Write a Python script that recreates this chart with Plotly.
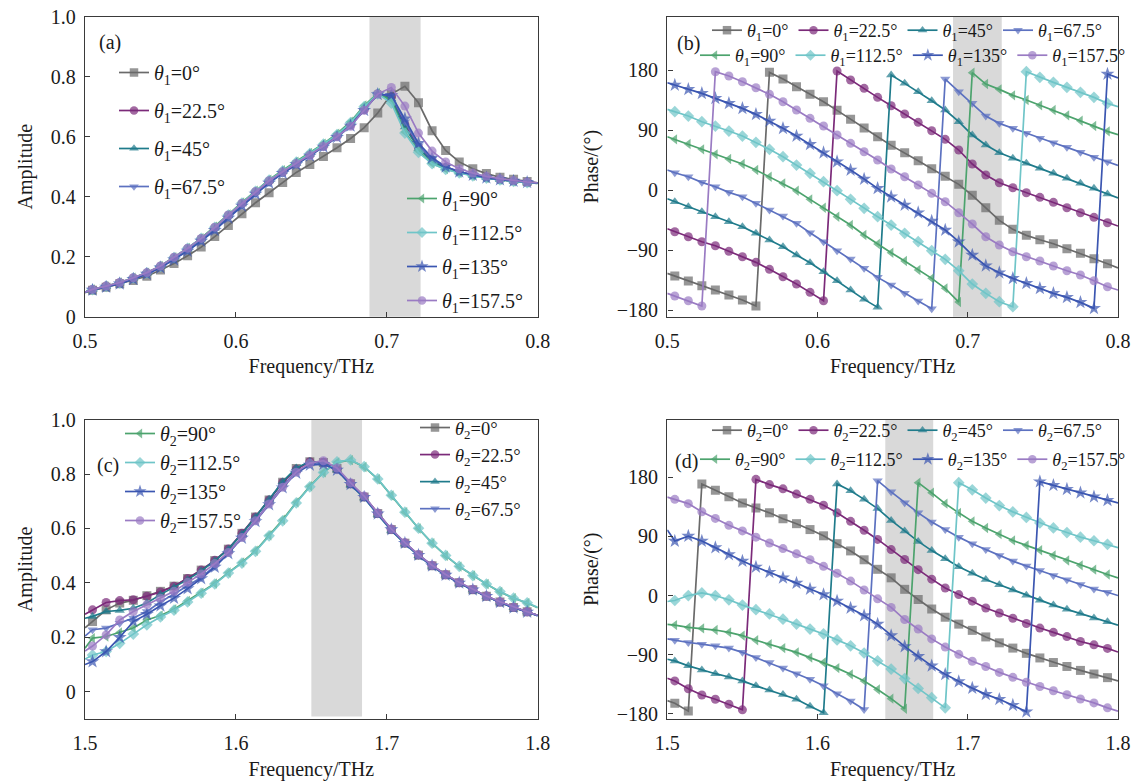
import plotly.graph_objects as go

# ---------------------------------------------------------------- data
# sampling grids (first/last entries are the window edges, the rest carry markers)
freq_low = [0.500, 0.505, 0.514, 0.523, 0.532, 0.541, 0.550, 0.559, 0.568, 0.577, 0.586,
            0.595, 0.604, 0.613, 0.622, 0.631, 0.640, 0.649, 0.658, 0.667, 0.676, 0.685,
            0.694, 0.703, 0.712, 0.721, 0.730, 0.739, 0.748, 0.757, 0.766, 0.775, 0.784,
            0.793, 0.800]
freq_high = [1.500, 1.505, 1.514, 1.523, 1.532, 1.541, 1.550, 1.559, 1.568, 1.577, 1.586,
             1.595, 1.604, 1.613, 1.622, 1.631, 1.640, 1.649, 1.658, 1.667, 1.676, 1.685,
             1.694, 1.703, 1.712, 1.721, 1.730, 1.739, 1.748, 1.757, 1.766, 1.775, 1.784,
             1.793, 1.800]

angles = ["0", "22.5", "45", "67.5", "90", "112.5", "135", "157.5"]

# (a) amplitude, theta1 sweep
amp_a_0 = [0.080, 0.088, 0.098, 0.110, 0.121, 0.135, 0.156, 0.177, 0.203, 0.232, 0.267, 0.304,
           0.343, 0.380, 0.413, 0.447, 0.481, 0.507, 0.534, 0.563, 0.594, 0.630, 0.679, 0.742,
           0.768, 0.713, 0.620, 0.554, 0.516, 0.493, 0.477, 0.465, 0.458, 0.451, 0.446]
amp_a_22 = [0.082, 0.091, 0.102, 0.113, 0.129, 0.146, 0.168, 0.197, 0.227, 0.260, 0.297, 0.338,
            0.377, 0.416, 0.452, 0.482, 0.510, 0.539, 0.569, 0.602, 0.640, 0.690, 0.743, 0.732,
            0.640, 0.565, 0.522, 0.498, 0.483, 0.472, 0.463, 0.457, 0.452, 0.448, 0.445]
amp_a_45 = [0.082, 0.090, 0.101, 0.112, 0.128, 0.145, 0.167, 0.195, 0.225, 0.258, 0.295, 0.336,
            0.376, 0.415, 0.452, 0.483, 0.511, 0.541, 0.572, 0.605, 0.645, 0.697, 0.744, 0.726,
            0.632, 0.560, 0.518, 0.496, 0.482, 0.471, 0.463, 0.457, 0.452, 0.448, 0.445]
amp_a_67 = [0.082, 0.090, 0.100, 0.111, 0.126, 0.143, 0.164, 0.192, 0.221, 0.254, 0.290, 0.331,
            0.371, 0.410, 0.447, 0.478, 0.507, 0.536, 0.566, 0.599, 0.637, 0.690, 0.742, 0.736,
            0.650, 0.570, 0.526, 0.500, 0.484, 0.472, 0.463, 0.457, 0.452, 0.448, 0.445]
amp_a_90 = [0.082, 0.091, 0.102, 0.114, 0.130, 0.147, 0.169, 0.198, 0.229, 0.262, 0.300, 0.341,
            0.381, 0.420, 0.457, 0.488, 0.517, 0.546, 0.577, 0.610, 0.650, 0.704, 0.745, 0.720,
            0.616, 0.552, 0.511, 0.492, 0.480, 0.470, 0.462, 0.456, 0.451, 0.447, 0.444]
amp_a_112 = [0.082, 0.090, 0.101, 0.113, 0.129, 0.146, 0.168, 0.197, 0.228, 0.261, 0.298, 0.339,
             0.379, 0.418, 0.455, 0.486, 0.515, 0.544, 0.575, 0.607, 0.647, 0.700, 0.743, 0.712,
             0.612, 0.548, 0.510, 0.491, 0.479, 0.469, 0.462, 0.456, 0.451, 0.447, 0.444]
amp_a_135 = [0.082, 0.089, 0.099, 0.110, 0.125, 0.142, 0.163, 0.190, 0.219, 0.252, 0.288, 0.329,
             0.369, 0.409, 0.446, 0.478, 0.507, 0.536, 0.566, 0.598, 0.636, 0.688, 0.741, 0.738,
             0.660, 0.578, 0.530, 0.500, 0.483, 0.472, 0.463, 0.457, 0.452, 0.448, 0.445]
amp_a_157 = [0.082, 0.091, 0.102, 0.114, 0.130, 0.147, 0.169, 0.198, 0.228, 0.261, 0.298, 0.339,
             0.378, 0.417, 0.453, 0.483, 0.511, 0.538, 0.568, 0.600, 0.635, 0.688, 0.742, 0.764,
             0.702, 0.612, 0.552, 0.516, 0.493, 0.479, 0.468, 0.460, 0.454, 0.449, 0.446]

# (b) phase in degrees, theta1 sweep
ph_b_0 = [-125, -129, -136.5, -143.5, -150, -157.5, -165, -174, 176.5, 166.5, 155, 143.5, 132.5,
          119.5, 106, 93, 80, 67, 56, 44, 32, 20.5, 8.5, -8, -26.5, -45.5, -59, -68, -74.5,
          -80.5, -88, -95, -103, -110.5, -117]
ph_b_22 = [-58, -62.5, -70, -77.5, -83.5, -92, -100, -108.5, -119, -130, -141, -153.5, -166,
           178.5, 165, 152.5, 139, 126.5, 114, 101.5, 89, 76, 60, 39, 22.5, 11, 3.5, -4, -11,
           -18.5, -26.5, -34, -41, -49, -54]
ph_b_45 = [-13, -17.5, -25, -32.5, -40, -47.5, -55, -65, -75, -85, -97.5, -109, -122.5, -136,
           -150, -164, -176, 172.5, 160, 147.5, 134, 120, 102.5, 82.5, 67.5, 56, 47.5, 40, 32.5,
           25, 17.5, 10, 2.5, -6, -12]
ph_b_67 = [30, 26, 20, 11.5, 5, -3.5, -10, -20, -30, -39, -50, -64, -77.5, -91, -103.5, -117.5,
           -131, -142.5, -155, -166.5, -178, 166.5, 147.5, 130, 111, 100, 92.5, 85, 77.5, 71,
           64, 56.5, 49, 42.5, 37]
ph_b_90 = [80, 76, 69, 61, 53.5, 46.5, 39, 30, 20, 10, -1, -14, -26.5, -40, -52.5, -67.5, -81,
           -94, -106.5, -120, -132.5, -147.5, -168, 176, 159, 151, 142, 135, 127, 120, 112,
           104, 96, 88, 83]
ph_b_112 = [121, 117.5, 111, 102.5, 96, 88.5, 81, 71.5, 61, 50, 37.5, 25, 12.5, -1, -14, -27.5,
            -40, -52.5, -65, -77.5, -91, -104, -121, -141, -155, -167.5, -175, 177.5, 169,
            161.5, 154, 146.5, 139, 130, 125]
ph_b_135 = [161, 157.5, 151, 145, 137.5, 130, 122.5, 113.5, 103.5, 92.5, 81, 68.5, 56, 42.5, 30,
            16.5, 2.5, -10, -22.5, -34, -46.5, -60, -77.5, -97.5, -113.5, -124, -132.5, -140,
            -147.5, -155, -161, -168.5, -177.5, 174, 168]
ph_b_157 = [-155, -159, -166, -174, 177.5, 171, 162.5, 153.5, 143.5, 132.5, 120, 107.5, 96, 82.5,
            70, 57.5, 45, 31.5, 20, 7.5, -5, -17.5, -34, -51, -70, -82.5, -92.5, -100, -106.5,
            -114, -121, -127.5, -136, -145, -150]

# (c) amplitude, theta2 sweep
amp_c_0 = [0.235, 0.258, 0.301, 0.326, 0.336, 0.353, 0.369, 0.388, 0.416, 0.447, 0.482, 0.524,
           0.582, 0.642, 0.705, 0.770, 0.820, 0.845, 0.842, 0.820, 0.764, 0.716, 0.655, 0.596,
           0.546, 0.502, 0.463, 0.430, 0.401, 0.375, 0.351, 0.330, 0.310, 0.294, 0.281]
amp_c_22 = [0.285, 0.301, 0.328, 0.335, 0.338, 0.351, 0.367, 0.388, 0.416, 0.447, 0.483, 0.525,
            0.582, 0.642, 0.705, 0.769, 0.818, 0.845, 0.843, 0.818, 0.765, 0.717, 0.656, 0.597,
            0.547, 0.503, 0.464, 0.430, 0.401, 0.376, 0.352, 0.330, 0.311, 0.294, 0.281]
amp_c_45 = [0.270, 0.277, 0.295, 0.299, 0.307, 0.326, 0.357, 0.383, 0.412, 0.444, 0.481, 0.524,
            0.580, 0.642, 0.707, 0.772, 0.822, 0.846, 0.840, 0.815, 0.760, 0.712, 0.651, 0.593,
            0.543, 0.500, 0.461, 0.428, 0.399, 0.374, 0.350, 0.329, 0.309, 0.293, 0.280]
amp_c_67 = [0.205, 0.228, 0.234, 0.252, 0.271, 0.295, 0.330, 0.359, 0.390, 0.420, 0.462, 0.512,
            0.568, 0.630, 0.694, 0.756, 0.810, 0.836, 0.838, 0.815, 0.762, 0.714, 0.653, 0.595,
            0.545, 0.501, 0.462, 0.429, 0.400, 0.375, 0.351, 0.329, 0.310, 0.293, 0.280]
amp_c_90 = [0.160, 0.197, 0.203, 0.218, 0.234, 0.264, 0.280, 0.303, 0.334, 0.364, 0.398, 0.438,
            0.475, 0.518, 0.575, 0.632, 0.696, 0.755, 0.806, 0.843, 0.851, 0.826, 0.781, 0.721,
            0.660, 0.600, 0.546, 0.500, 0.460, 0.427, 0.396, 0.367, 0.344, 0.326, 0.309]
amp_c_112 = [0.120, 0.135, 0.148, 0.178, 0.212, 0.246, 0.275, 0.300, 0.330, 0.362, 0.396, 0.436,
             0.473, 0.516, 0.573, 0.628, 0.694, 0.753, 0.806, 0.845, 0.852, 0.827, 0.782, 0.722,
             0.660, 0.601, 0.546, 0.501, 0.461, 0.427, 0.396, 0.368, 0.344, 0.327, 0.310]
amp_c_135 = [0.100, 0.111, 0.148, 0.200, 0.258, 0.285, 0.316, 0.344, 0.379, 0.416, 0.458, 0.508,
             0.565, 0.626, 0.688, 0.750, 0.804, 0.833, 0.836, 0.815, 0.762, 0.715, 0.654, 0.596,
             0.546, 0.502, 0.463, 0.429, 0.400, 0.375, 0.351, 0.329, 0.309, 0.293, 0.280]
amp_c_157 = [0.150, 0.168, 0.209, 0.264, 0.295, 0.320, 0.344, 0.369, 0.402, 0.433, 0.471, 0.512,
             0.567, 0.628, 0.690, 0.751, 0.807, 0.840, 0.849, 0.822, 0.768, 0.719, 0.657, 0.598,
             0.548, 0.504, 0.465, 0.431, 0.402, 0.377, 0.352, 0.331, 0.311, 0.294, 0.281]

# (d) phase in degrees, theta2 sweep
ph_d_0 = [-160, -164, -176, 170, 160.5, 150.5, 141, 133.5, 126, 117, 109.5, 100.5, 91, 79, 68,
          54.5, 40, 27, 9.5, -6, -20.5, -33, -43.5, -53, -63, -72, -80, -88, -95, -102,
          -108, -114, -119.5, -125, -130]
ph_d_22 = [-126, -130, -142, -151.5, -158, -165.5, -174, 177, 169, 162.5, 154.5, 146.5, 137.5,
           126, 113, 99.5, 85.5, 70, 55, 39.5, 25, 11.5, 1.5, -8.5, -19, -26.5, -34.5, -42.5,
           -49.5, -56, -62.5, -70, -75, -80.5, -86]
ph_d_45 = [-97, -99.5, -107, -113.5, -119, -124, -130, -137.5, -144, -150.5, -158, -168.5, -178.5,
           170, 159.5, 146.5, 132.5, 114.5, 98.5, 82.5, 68.5, 56, 44, 34, 24.5, 16.5, 8.5, 0.5,
           -7, -14.5, -21, -27.5, -34, -40, -45]
ph_d_67 = [-66, -68, -71.5, -74, -76.5, -80, -86.5, -94.5, -102, -110.5, -119, -127.5, -137.5,
           -149.5, -160.5, -173.5, 175, 158, 141.5, 126, 112, 100.5, 89, 79, 70, 61, 52.5, 45,
           38, 30.5, 24, 17, 10, 5, 0]
ph_d_90 = [-44, -45, -48.5, -50, -52.5, -56, -61, -68, -74, -80, -86.5, -94.5, -102, -110.5, -120,
           -130, -143, -157, -172.5, 172, 156.5, 140, 126, 113, 103, 93.5, 84, 76.5, 69, 61,
           53.5, 46, 39.5, 32, 27]
ph_d_112 = [-9, -7.5, 0, 4, 0, -6.5, -14.5, -21.5, -28, -36, -43.5, -51, -58.5, -67.5, -76.5,
            -87.5, -99.5, -112, -126.5, -141.5, -155.5, -171, 172, 161, 148.5, 137, 127.5, 119,
            110.5, 103, 96, 89, 83.5, 78, 73]
ph_d_135 = [100, 83, 90.5, 83, 73, 62.5, 52.5, 43.5, 35.5, 27, 19, 10, 1.5, -8.5, -19, -30.5,
            -43.5, -61, -77.5, -92.5, -107, -120, -131, -141, -150.5, -158, -167, -177, 173.5,
            168, 162, 156.5, 150.5, 145, 141]
ph_d_157 = [150, 146.5, 140, 127.5, 117.5, 107, 98.5, 89, 80, 71.5, 63.5, 54.5, 44.5, 34, 22,
            8.5, -5, -18, -36.5, -51, -66, -78.5, -89.5, -100, -108, -117, -124.5, -132, -138.5,
            -145, -151, -157.5, -163.5, -171, -176]

# ---------------------------------------------------------------- styling
colors = ["#6a6a6a", "#7b2a79", "#1f7b8b", "#5c71c0", "#4ca36d", "#6fc5c8", "#3b56b1", "#9a7bc3"]
symbols = ["square", "circle", "triangle-up", "triangle-down", "triangle-left", "diamond",
           "star", "circle"]
SERIF = "Liberation Serif"
INK = "#1a1a1a"
AXIS = "#3a3a3a"
W, H = 1136, 783


def px_x(p):
    return p / W


def px_y(p):
    return 1 - p / H


# plot areas in pixels: (left, right, top, bottom)
boxes = {
    "a": (85.0, 537.7, 16.7, 316.7),
    "b": (667.3, 1118.0, 16.7, 316.7),
    "c": (85.0, 537.7, 419.6, 719.0),
    "d": (667.3, 1118.0, 419.6, 719.0),
}
axis_ids = {"a": ("x", "y"), "b": ("x2", "y2"), "c": ("x3", "y3"), "d": ("x4", "y4")}

fig = go.Figure()


def label(idx, sub):
    return f"<i>θ</i><sub>{sub}</sub>={angles[idx]}°"


def add_panel(panel, freq, series, sub, legend_of):
    xa, ya = axis_ids[panel]
    n = len(freq)
    for i, vals in enumerate(series):
        assert len(vals) == n, (panel, i, len(vals))
        msize = 10.5 if symbols[i] == "star" else 9
        size_i = [0] + [msize] * (n - 2) + [0]
        fig.add_trace(go.Scatter(
            x=freq, y=vals, mode="lines+markers", xaxis=xa, yaxis=ya,
            name=label(i, sub), legend=legend_of[i], legendgroup=f"{panel}{i}",
            line=dict(color=colors[i], width=1.7),
            marker=dict(symbol=symbols[i], size=size_i, color=colors[i], line=dict(width=0)),
        ))


add_panel("a", freq_low,
          [amp_a_0, amp_a_22, amp_a_45, amp_a_67, amp_a_90, amp_a_112, amp_a_135, amp_a_157],
          "1", ["legend"] * 4 + ["legend2"] * 4)
add_panel("b", freq_low,
          [ph_b_0, ph_b_22, ph_b_45, ph_b_67, ph_b_90, ph_b_112, ph_b_135, ph_b_157],
          "1", ["legend3"] * 4 + ["legend4"] * 4)
add_panel("c", freq_high,
          [amp_c_0, amp_c_22, amp_c_45, amp_c_67, amp_c_90, amp_c_112, amp_c_135, amp_c_157],
          "2", ["legend6"] * 4 + ["legend5"] * 4)
add_panel("d", freq_high,
          [ph_d_0, ph_d_22, ph_d_45, ph_d_67, ph_d_90, ph_d_112, ph_d_135, ph_d_157],
          "2", ["legend7"] * 4 + ["legend8"] * 4)

tick_font = dict(family=SERIF, size=20, color=INK)
title_font = dict(family=SERIF, size=20, color=INK)


def xaxis_cfg(panel, lo, hi, ticks, title):
    l, r, t, b = boxes[panel]
    return dict(domain=[px_x(l), px_x(r)], range=[lo, hi], anchor=axis_ids[panel][1],
                tickvals=ticks, ticktext=[f"{v:.1f}" for v in ticks],
                ticks="inside", ticklen=5, tickwidth=1.2, tickcolor=AXIS,
                showline=True, linecolor=AXIS, linewidth=1.4, mirror=True,
                showgrid=False, zeroline=False, tickfont=tick_font, ticklabelstandoff=6,
                automargin=False,
                title=dict(text=title, font=title_font, standoff=8))


def yaxis_cfg(panel, lo, hi, ticks, texts, title, standoff):
    l, r, t, b = boxes[panel]
    return dict(domain=[px_y(b), px_y(t)], range=[lo, hi], anchor=axis_ids[panel][0],
                tickvals=ticks, ticktext=texts,
                ticks="inside", ticklen=5, tickwidth=1.2, tickcolor=AXIS,
                showline=True, linecolor=AXIS, linewidth=1.4, mirror=True,
                showgrid=False, zeroline=False, tickfont=tick_font, ticklabelstandoff=4,
                automargin=False,
                title=dict(text=title, font=title_font, standoff=standoff))


amp_ticks = [0, 0.2, 0.4, 0.6, 0.8, 1.0]
amp_text = ["0", "0.2", "0.4", "0.6", "0.8", "1.0"]
ph_ticks = [-180, -90, 0, 90, 180]
ph_text = ["−180", "−90", "0", "90", "180"]

layout = dict(
    width=W, height=H, autosize=False,
    margin=dict(l=0, r=0, t=0, b=0, autoexpand=False),
    paper_bgcolor="white", plot_bgcolor="white",
    font=dict(family=SERIF, color=INK),
    xaxis=xaxis_cfg("a", 0.5, 0.8, [0.5, 0.6, 0.7, 0.8], "Frequency/THz"),
    xaxis2=xaxis_cfg("b", 0.5, 0.8, [0.5, 0.6, 0.7, 0.8], "Frequency/THz"),
    xaxis3=xaxis_cfg("c", 1.5, 1.8, [1.5, 1.6, 1.7, 1.8], "Frequency/THz"),
    xaxis4=xaxis_cfg("d", 1.5, 1.8, [1.5, 1.6, 1.7, 1.8], "Frequency/THz"),
    yaxis=yaxis_cfg("a", 0, 1.0, amp_ticks, amp_text, "Amplitude", 12),
    yaxis2=yaxis_cfg("b", -190, 260, ph_ticks, ph_text, "Phase/(°)", 12),
    yaxis3=yaxis_cfg("c", -0.1, 1.0, amp_ticks, amp_text, "Amplitude", 12),
    yaxis4=yaxis_cfg("d", -188, 268, ph_ticks, ph_text, "Phase/(°)", 12),
    showlegend=True,
)


def legend_cfg(x, y, size, orientation="v", gap=0):
    return dict(x=px_x(x), y=px_y(y), xanchor="left", yanchor="top",
                bgcolor="rgba(0,0,0,0)", borderwidth=0, orientation=orientation,
                font=dict(family=SERIF, size=size, color=INK),
                itemwidth=30, tracegroupgap=gap, itemclick=False, itemdoubleclick=False)


layout["legend"] = legend_cfg(114, 53, 20, gap=9)
layout["legend2"] = legend_cfg(402, 179, 20, gap=5)
layout["legend3"] = legend_cfg(707, 12, 18, orientation="h")
layout["legend4"] = legend_cfg(695, 37, 18, orientation="h")
layout["legend5"] = legend_cfg(120, 414, 20, gap=0)
layout["legend6"] = legend_cfg(415, 409, 18.5, gap=0)
layout["legend7"] = legend_cfg(707, 412, 18, orientation="h")
layout["legend8"] = legend_cfg(695, 441, 18, orientation="h")

# shaded bands marking the resonance window
bands = {"a": (0.6885, 0.7224), "b": (0.6902, 0.7226), "c": (1.650, 1.6836), "d": (1.6451, 1.677)}
shapes = []
for panel, (x0, x1) in bands.items():
    xa, ya = axis_ids[panel]
    shapes.append(dict(type="rect", xref=xa, yref=f"{ya} domain", x0=x0, x1=x1,
                       y0=0.0 if panel != "c" else 0.008, y1=1.0,
                       fillcolor="#d9d9d9", line=dict(width=0), layer="below"))
layout["shapes"] = shapes

# panel tags
tags = {"a": (110, 42), "b": (688, 44), "c": (108, 466), "d": (686, 461)}
layout["annotations"] = [
    dict(text=f"({k})", x=px_x(px), y=px_y(py), xref="paper", yref="paper",
         xanchor="center", yanchor="middle", showarrow=False,
         font=dict(family=SERIF, size=20, color=INK))
    for k, (px, py) in tags.items()
]

fig.update_layout(**layout)
fig.write_html("out.html")
